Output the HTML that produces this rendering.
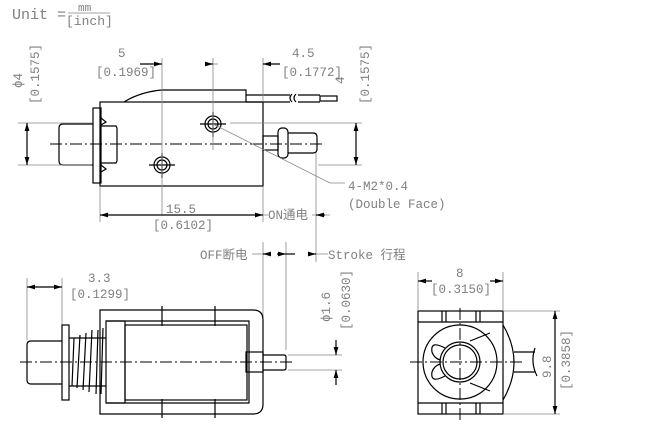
<!DOCTYPE html>
<html><head><meta charset="utf-8"><style>
html,body{margin:0;padding:0;background:#fff;width:648px;height:442px;overflow:hidden}
svg{display:block}
text{font-family:"Liberation Mono","Noto Sans CJK SC",monospace;font-size:12.5px;fill:#808080}
.k{stroke:#000;stroke-width:1.2;fill:none}
.g{stroke:#888;stroke-width:.8;fill:none}
.c{stroke:#000;stroke-width:1;fill:none;stroke-dasharray:12 3 2 3}
</style></head><body>
<svg width="648" height="442" viewBox="0 0 648 442">
<defs><marker id="a" viewBox="0 0 10 6" refX="10" refY="3" markerWidth="9" markerHeight="4" orient="auto-start-reverse"><path d="M0,0L10,3L0,6z" fill="#000"/></marker></defs>
<!-- unit -->
<text x="12" y="19" style="font-size:15px">Unit =</text>
<text x="78" y="11" style="font-size:11px">mm</text>
<line x1="68" y1="13" x2="110" y2="13" class="g"/>
<text x="66" y="25" style="font-size:13px">[inch]</text>

<!-- TOP VIEW -->
<rect x="100" y="102" width="163" height="84" class="k"/>
<path class="k" d="M124,102 Q140,92 162,90 L246,90 L246,102"/>
<path class="k" d="M246,95 L290,95 M246,102 L290,102 M292,94 q-4,4 0,8 M296,94 q-4,4 0,8 M298,95 L320,95 M298,102 L320,102"/>
<rect x="320" y="96" width="17" height="5" class="k"/>
<rect x="93" y="108" width="8" height="75" class="k"/>
<path class="k" d="M101,118 l5,4 l-5,3 M101,165 l5,4 l-5,3"/>
<path class="k" d="M101,126 L116,126 L117,128 L117,161 L116,163 L101,163"/>
<path class="k" d="M93,124 L63,124 Q59,124 59,128 L59,161 Q59,165 63,165 L93,165"/>
<rect x="263" y="136" width="15" height="14" class="k"/>
<rect x="278" y="128" width="10" height="30" rx="4" class="k"/>
<path class="k" d="M288,133 L313,133 Q317,133 317,137 L317,149 Q317,153 313,153 L288,153"/>
<line x1="50" y1="144" x2="322" y2="144" class="c"/>
<circle cx="213" cy="124" r="8" class="k"/><circle cx="213" cy="124" r="5" class="k"/>
<line x1="200" y1="124" x2="226" y2="124" class="k"/><line x1="213" y1="112" x2="213" y2="137" class="k"/>
<circle cx="162" cy="165" r="8" class="k"/><circle cx="162" cy="165" r="5" class="k"/>
<line x1="149" y1="165" x2="175" y2="165" class="k"/><line x1="162" y1="153" x2="162" y2="178" class="k"/>
<!-- dims top -->
<path class="g" d="M162,58 V215 M213,58 V150 M263,58 V102 M100,186 V222 M263,186 V222 M316,153 V260 M18,123 H92 M18,165 H92 M230,123 H362 M318,165 H362"/>
<line x1="140" y1="64" x2="162" y2="64" class="k" marker-end="url(#a)"/>
<line x1="207" y1="64" x2="213" y2="64" class="k" marker-end="url(#a)"/>
<line x1="213" y1="64" x2="218" y2="64" class="g"/>
<line x1="280" y1="64" x2="263" y2="64" class="k" marker-end="url(#a)"/>
<line x1="27" y1="123" x2="27" y2="165" class="k" marker-start="url(#a)" marker-end="url(#a)"/>
<line x1="356" y1="123" x2="356" y2="165" class="k" marker-start="url(#a)" marker-end="url(#a)"/>
<line x1="100" y1="215" x2="263" y2="215" class="k" marker-start="url(#a)" marker-end="url(#a)"/>
<line x1="263" y1="215" x2="268" y2="215" class="g"/>
<line x1="312" y1="215" x2="330" y2="215" class="g"/>
<line x1="325" y1="215" x2="316" y2="215" class="k" marker-end="url(#a)"/>
<text x="118" y="57">5</text><text x="96" y="76">[0.1969]</text>
<text x="292" y="57">4.5</text><text x="282" y="76">[0.1772]</text>
<text transform="translate(22,88) rotate(-90)">ϕ4</text>
<text transform="translate(39,104) rotate(-90)">[0.1575]</text>
<text transform="translate(344,84) rotate(-90)">4</text>
<text transform="translate(369,104) rotate(-90)">[0.1575]</text>
<text x="166" y="213">15.5</text><text x="153" y="229">[0.6102]</text>
<text x="268" y="219">ON通电</text>
<path class="g" d="M213,124 L330,183 H345"/>
<text x="348" y="190">4-M2*0.4</text>
<text x="348" y="208">(Double Face)</text>

<!-- BOTTOM SIDE VIEW -->
<path class="g" d="M263,242 V320 M286,242 V350 M316,258 V262"/>
<text x="200" y="259">OFF断电</text>
<line x1="252" y1="254" x2="263" y2="254" class="g"/>
<line x1="270" y1="254" x2="263" y2="254" class="k" marker-end="url(#a)"/>
<line x1="277" y1="254" x2="286" y2="254" class="k" marker-end="url(#a)"/>
<line x1="286" y1="254" x2="295" y2="254" class="k"/>
<line x1="308" y1="254" x2="316" y2="254" class="k" marker-end="url(#a)"/>
<line x1="316" y1="254" x2="328" y2="254" class="g"/>
<text x="328" y="259">Stroke 行程</text>
<path class="g" d="M27,278 V340 M62,278 V325"/>
<line x1="27" y1="287" x2="62" y2="287" class="k" marker-start="url(#a)" marker-end="url(#a)"/>
<text x="88" y="282">3.3</text><text x="70" y="298">[0.1299]</text>
<path class="k" d="M100,310 H253 Q263,310 263,320 V404 Q263,414 253,414 H100 Z"/>
<path class="k" d="M106,321 H249 V403 H106"/>
<rect x="106" y="321" width="19" height="82" class="k"/>
<rect x="125" y="325" width="122" height="75" class="k"/>
<path class="k" d="M162,306 V326 M215,306 V326 M162,399 V418 M215,399 V418"/>
<rect x="62" y="325" width="7" height="75" class="k"/>
<path class="k" d="M62,341 H31 Q27,341 27,345 V380 Q27,384 31,384 H62"/>
<path class="k" d="M74,338 L72,386 M80,335 L77,388 M86,333 L83,390 M92,330 L89,392 M98,330 L96,394 M103,328 L101,394 M69,338 H106 M69,386 H106"/>
<rect x="246" y="352" width="17" height="20" class="k"/>
<path class="k" d="M263,355 H284 Q286,355 286,357 V368 Q286,370 284,370 H263"/>
<line x1="20" y1="362" x2="292" y2="362" class="c"/>
<path class="g" d="M288,355 H342 M288,370 H342"/>
<line x1="336" y1="340" x2="336" y2="355" class="k" marker-end="url(#a)"/>
<line x1="336" y1="385" x2="336" y2="370" class="k" marker-end="url(#a)"/>
<text transform="translate(330,322) rotate(-90)">ϕ1.6</text>
<text transform="translate(350,330) rotate(-90)">[0.0630]</text>

<!-- END VIEW -->
<rect x="418" y="311" width="85" height="103" class="k"/>
<path class="k" d="M418,322 H503 M418,403 H503 M442,311 V322 M446,311 V322 M476,311 V322 M480,311 V322 M442,403 V414 M446,403 V414 M476,403 V414 M480,403 V414"/>
<circle cx="460" cy="362" r="37" class="k"/>
<circle cx="460" cy="362" r="20" class="k"/><circle cx="460" cy="362" r="17" class="k"/>
<path class="k" d="M470,341 L490,333 M470,383 L490,391 M445,348 Q430,340 432,352 Q434,358 440,360 M445,376 Q430,384 432,372 Q434,366 440,364"/>
<path class="k" d="M503,325 Q525,362 503,400"/>
<path class="k" d="M514,352 H535 M514,372 H535 M535,348 Q530,362 537,376"/>
<line x1="410" y1="362" x2="522" y2="362" class="c"/>
<line x1="460" y1="308" x2="460" y2="420" class="c"/>
<path class="g" d="M418,272 V311 M503,272 V311 M503,311 H560 M503,414 H560"/>
<line x1="432" y1="281" x2="418" y2="281" class="k" marker-end="url(#a)"/>
<line x1="490" y1="281" x2="503" y2="281" class="k" marker-end="url(#a)"/>
<line x1="555" y1="311" x2="555" y2="414" class="k" marker-start="url(#a)" marker-end="url(#a)"/>
<text x="456" y="277">8</text><text x="431" y="293">[0.3150]</text>
<text transform="translate(551,378) rotate(-90)">9.8</text>
<text transform="translate(570,390) rotate(-90)">[0.3858]</text>
</svg>
</body></html>
